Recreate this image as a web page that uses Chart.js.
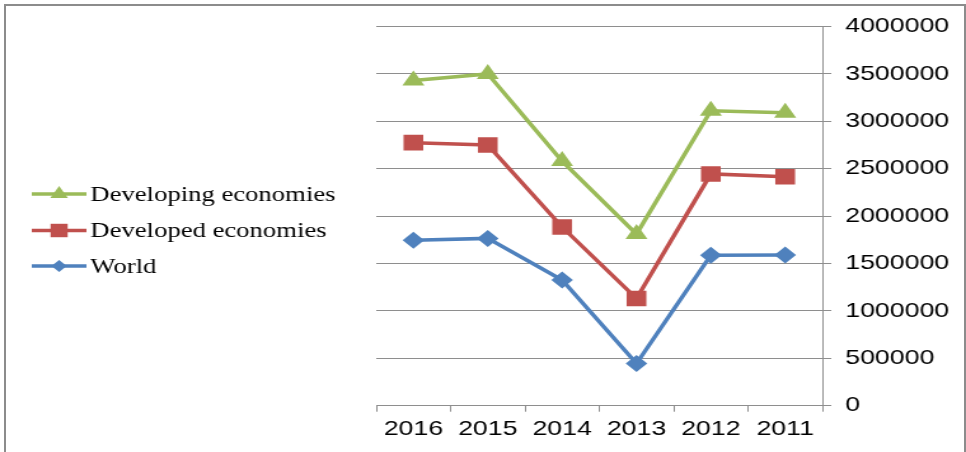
<!DOCTYPE html>
<html>
<head>
<meta charset="utf-8">
<script src="https://cdn.jsdelivr.net/npm/chart.js@4/dist/chart.umd.min.js"></script>
<style>
    html, body { margin: 0; padding: 0; background: #fff; overflow: hidden; }
    #frame {
        position: absolute; left: 4px; top: 4px; width: 958px; height: 448px;
        border: 2px solid #8c8c8c; border-bottom: none; pointer-events: none;
    }
    /* the chart is drawn narrow and stretched sideways, like the original export */
    #wrap {
        position: absolute; left: 0; top: 0; width: 760px; height: 452px;
        transform: scaleX(1.27105); transform-origin: 0 0;
    }
</style>
</head>
<body>
<div id="wrap"><canvas id="tradeChart"></canvas></div>
<div id="frame"></div>
<script>
const years = ["2016", "2015", "2014", "2013", "2012", "2011"];
const developing = [3430000, 3500000, 2580000, 1810000, 3110000, 3090000];
const developed = [2775000, 2750000, 1885000, 1130000, 2445000, 2415000];
const world = [1745000, 1765000, 1325000, 445000, 1588000, 1590000];
const yTicks = [0, 500000, 1000000, 1500000, 2000000, 2500000, 3000000, 3500000, 4000000];

const gridGray = "#8e8e8e";

function drawMarker(ctx, style, x, y, r, color) {
    ctx.save();
    ctx.fillStyle = color;
    ctx.beginPath();
    if (style === "triangle") {
        ctx.moveTo(x, y - r);
        ctx.lineTo(x + r * 0.866, y + r * 0.5);
        ctx.lineTo(x - r * 0.866, y + r * 0.5);
    } else if (style === "rect") {
        const s = r * Math.SQRT1_2;
        ctx.rect(x - s, y - s, 2 * s, 2 * s);
    } else {
        ctx.moveTo(x - r, y);
        ctx.lineTo(x, y - r);
        ctx.lineTo(x + r, y);
        ctx.lineTo(x, y + r);
    }
    ctx.closePath();
    ctx.fill();
    ctx.restore();
}

// legend on the left: line + marker + serif label
const sideLegend = {
    id: "sideLegend",
    afterDraw(chart) {
        const ctx = chart.ctx;
        const rows = [194, 230.5, 266];
        chart.data.datasets.forEach((ds, i) => {
            const y = rows[i];
            ctx.save();
            ctx.strokeStyle = ds.borderColor;
            ctx.lineWidth = 3.5;
            ctx.beginPath();
            ctx.moveTo(25, y);
            ctx.lineTo(68, y);
            ctx.stroke();
            ctx.restore();
            drawMarker(ctx, ds.pointStyle, 46.5, y, ds.legendRadius, ds.borderColor);
            ctx.save();
            ctx.fillStyle = "#000";
            ctx.font = "21px 'Liberation Serif', 'Times New Roman', serif";
            ctx.textBaseline = "middle";
            ctx.fillText(ds.label, 71, y + 1);
            ctx.restore();
        });
    }
};

function series(label, data, color, pointStyle, radius, legendRadius) {
    return {
        label: label,
        data: data,
        borderColor: color,
        backgroundColor: color,
        pointBackgroundColor: color,
        pointBorderColor: color,
        pointBorderWidth: 0,
        borderWidth: 3.5,
        pointStyle: pointStyle,
        pointRadius: radius,
        pointHoverRadius: radius,
        legendRadius: legendRadius,
        tension: 0
    };
}

new Chart("tradeChart", {
    type: "line",
    data: {
        labels: years,
        datasets: [
            series("Developing economies", developing, "#9bbb59", "triangle", 10, 8),
            series("Developed economies", developed, "#c0504d", "rect", 11, 9.5),
            series("World", world, "#4f81bd", "rectRot", 8.5, 6)
        ]
    },
    options: {
        responsive: true,
        maintainAspectRatio: false,
        animation: false,
        layout: { padding: { left: 296, top: 26.5, right: 0, bottom: 0 } },
        plugins: {
            legend: { display: false },
            tooltip: { enabled: false }
        },
        scales: {
            x: {
                offset: true,
                afterFit(scale) { scale.height = 46.3; },
                grid: {
                    offset: true,
                    drawOnChartArea: false,
                    color: gridGray,
                    tickLength: 6
                },
                border: { display: true, color: gridGray, width: 1 },
                ticks: {
                    color: "#000",
                    padding: 5,
                    maxRotation: 0,
                    font: { family: "'Liberation Sans', Arial, sans-serif", size: 21 }
                }
            },
            y: {
                position: "right",
                min: 0,
                max: 4000000,
                afterFit(scale) { scale.width = 113; },
                afterBuildTicks(scale) { scale.ticks = yTicks.map(v => ({ value: v })); },
                grid: { color: gridGray, tickLength: 7 },
                border: { display: true, color: gridGray, width: 1 },
                ticks: {
                    color: "#000",
                    padding: 11,
                    callback: v => String(v),
                    font: { family: "'Liberation Sans', Arial, sans-serif", size: 21 }
                }
            }
        }
    },
    plugins: [sideLegend]
});
</script>
</body>
</html>
